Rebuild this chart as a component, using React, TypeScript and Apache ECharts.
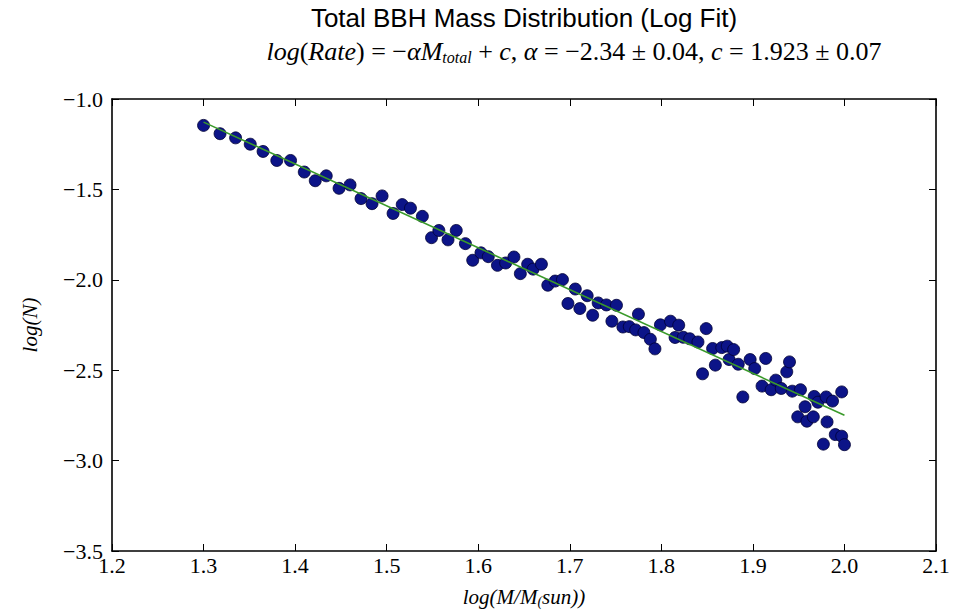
import React, { useEffect, useRef } from "react";
import * as echarts from "echarts";

const logMass: number[] = [
  1.300, 1.318, 1.335, 1.351, 1.365, 1.380, 1.395, 1.410, 1.422, 1.434,
  1.448, 1.460, 1.472, 1.484, 1.495, 1.507, 1.517, 1.526, 1.539, 1.549,
  1.557, 1.567, 1.576, 1.586, 1.594, 1.603, 1.611, 1.621, 1.630, 1.639,
  1.646, 1.654, 1.660, 1.669, 1.676, 1.684, 1.692, 1.698, 1.706, 1.711,
  1.719, 1.725, 1.731, 1.740, 1.746, 1.751, 1.758, 1.765, 1.772, 1.775,
  1.781, 1.788, 1.793, 1.799, 1.810, 1.815, 1.819, 1.824, 1.831, 1.840,
  1.845, 1.849, 1.856, 1.859, 1.866, 1.872, 1.874, 1.879, 1.884, 1.889,
  1.897, 1.902, 1.910, 1.914, 1.920, 1.925, 1.931, 1.937, 1.940, 1.943,
  1.949, 1.952, 1.957, 1.959, 1.966, 1.967, 1.971, 1.977, 1.980, 1.981,
  1.987, 1.990, 1.997, 1.997, 2.000,
];

const logN: number[] = [
  -1.146, -1.192, -1.215, -1.250, -1.290, -1.340, -1.340, -1.404, -1.452, -1.425,
  -1.494, -1.475, -1.551, -1.579, -1.536, -1.633, -1.584, -1.604, -1.649, -1.767,
  -1.727, -1.779, -1.727, -1.800, -1.892, -1.851, -1.872, -1.920, -1.907, -1.874,
  -1.966, -1.914, -1.941, -1.914, -2.030, -2.007, -1.999, -2.131, -2.051, -2.159,
  -2.088, -2.196, -2.128, -2.139, -2.229, -2.141, -2.261, -2.259, -2.277, -2.190,
  -2.292, -2.329, -2.382, -2.249, -2.229, -2.319, -2.251, -2.318, -2.326, -2.344,
  -2.520, -2.270, -2.380, -2.472, -2.375, -2.367, -2.441, -2.386, -2.467, -2.648,
  -2.441, -2.491, -2.588, -2.435, -2.608, -2.555, -2.601, -2.509, -2.454, -2.616,
  -2.758, -2.608, -2.702, -2.782, -2.758, -2.645, -2.677, -2.909, -2.648, -2.786,
  -2.671, -2.856, -2.865, -2.620, -2.912,
];

const fitX: number[] = [1.3, 2.0];
const fitY: number[] = [-1.128, -2.749];

const xTicks = { min: 1.2, max: 2.1, interval: 0.1 };
const yTicks = { min: -3.5, max: -1.0, interval: 0.5 };

const titleText = "Total BBH Mass Distribution (Log Fit)";
const subtitleRich =
  "{i|log}({i|Rate}) = −{i|α}{i|M}{sub|total} + {i|c}, {i|α} = −2.34 ± 0.04, {i|c} = 1.923 ± 0.07";
const xName = "{t|log(M/M}{sub|(}{t|sun))}";
const yName = "log(N)";

const SERIF = "'Liberation Serif', 'DejaVu Serif', serif";

const fmt = (v: number) => v.toFixed(1).replace("-", "\u2212");

export default function App() {
  const ref = useRef<HTMLDivElement>(null);
  useEffect(() => {
    if (!ref.current) return;
    document.body.style.margin = "0";
    const chart = echarts.init(ref.current, null, { renderer: "svg" });
    const scatterData = logMass.map((x, i) => [x, logN[i]]);
    const lineData = fitX.map((x, i) => [x, fitY[i]]);
    const tickStyle = { show: true, inside: true, length: 7, lineStyle: { color: "#000", width: 1 } };
    const frameLine = { show: true, onZero: false, lineStyle: { color: "#000", width: 1.6 } };
    chart.setOption({
      animation: false,
      backgroundColor: "#ffffff",
      graphic: [
        {
          type: "text",
          x: 524,
          y: 18,
          style: {
            text: titleText,
            fontFamily: "'Liberation Sans', Arial, sans-serif",
            fontSize: 26,
            fill: "#000",
            align: "center",
            verticalAlign: "middle",
          },
        },
        {
          type: "text",
          x: 574,
          y: 51,
          style: {
            text: subtitleRich,
            fontFamily: SERIF,
            fontSize: 26,
            fill: "#000",
            align: "center",
            verticalAlign: "middle",
            rich: {
              i: { fontFamily: SERIF, fontStyle: "italic", fontSize: 26, fill: "#000" },
              sub: { fontFamily: SERIF, fontStyle: "italic", fontSize: 16, fill: "#000", verticalAlign: "bottom", padding: [12, 0, 0, 0] },
            },
          },
        },
      ],
      grid: { left: 112, top: 99, width: 824, height: 452, containLabel: false, outerBoundsMode: "none" },
      xAxis: [
        {
          type: "value",
          min: xTicks.min,
          max: xTicks.max,
          interval: xTicks.interval,
          position: "bottom",
          axisLine: frameLine,
          axisTick: tickStyle,
          splitLine: { show: false },
          axisLabel: { formatter: fmt, fontFamily: SERIF, fontSize: 22, color: "#000", margin: 3 },
          name: xName,
          nameLocation: "middle",
          nameGap: 35,
          nameTextStyle: {
            fontFamily: SERIF,
            fontStyle: "italic",
            fontSize: 21,
            color: "#000",
            rich: {
              t: { fontFamily: SERIF, fontStyle: "italic", fontSize: 21, color: "#000" },
              sub: { fontFamily: SERIF, fontStyle: "italic", fontSize: 14, color: "#000", verticalAlign: "bottom", padding: [8, 0, 0, 0] },
            },
          },
        },
        {
          type: "value",
          min: xTicks.min,
          max: xTicks.max,
          interval: xTicks.interval,
          position: "top",
          axisLine: frameLine,
          axisTick: tickStyle,
          splitLine: { show: false },
          axisLabel: { show: false },
        },
      ],
      yAxis: [
        {
          type: "value",
          min: yTicks.min,
          max: yTicks.max,
          interval: yTicks.interval,
          position: "left",
          axisLine: frameLine,
          axisTick: tickStyle,
          splitLine: { show: false },
          axisLabel: { formatter: fmt, fontFamily: SERIF, fontSize: 22, color: "#000", margin: 9 },
          name: yName,
          nameLocation: "middle",
          nameGap: 72,
          nameRotate: 90,
          nameTextStyle: { fontFamily: SERIF, fontStyle: "italic", fontSize: 21, color: "#000" },
        },
        {
          type: "value",
          min: yTicks.min,
          max: yTicks.max,
          interval: yTicks.interval,
          position: "right",
          axisLine: frameLine,
          axisTick: tickStyle,
          splitLine: { show: false },
          axisLabel: { show: false },
        },
      ],
      series: [
        {
          type: "scatter",
          xAxisIndex: 0,
          yAxisIndex: 0,
          data: scatterData,
          symbol: "circle",
          symbolSize: 12,
          itemStyle: { color: "#0c1488", borderColor: "#000033", borderWidth: 0.8, opacity: 1 },
          z: 2,
        },
        {
          type: "line",
          xAxisIndex: 0,
          yAxisIndex: 0,
          data: lineData,
          showSymbol: false,
          symbol: "none",
          lineStyle: { color: "#3a9a2a", width: 1.6 },
          z: 3,
        },
      ],
    });
    return () => chart.dispose();
  }, []);
  return <div ref={ref} style={{ width: 961, height: 615 }} />;
}
